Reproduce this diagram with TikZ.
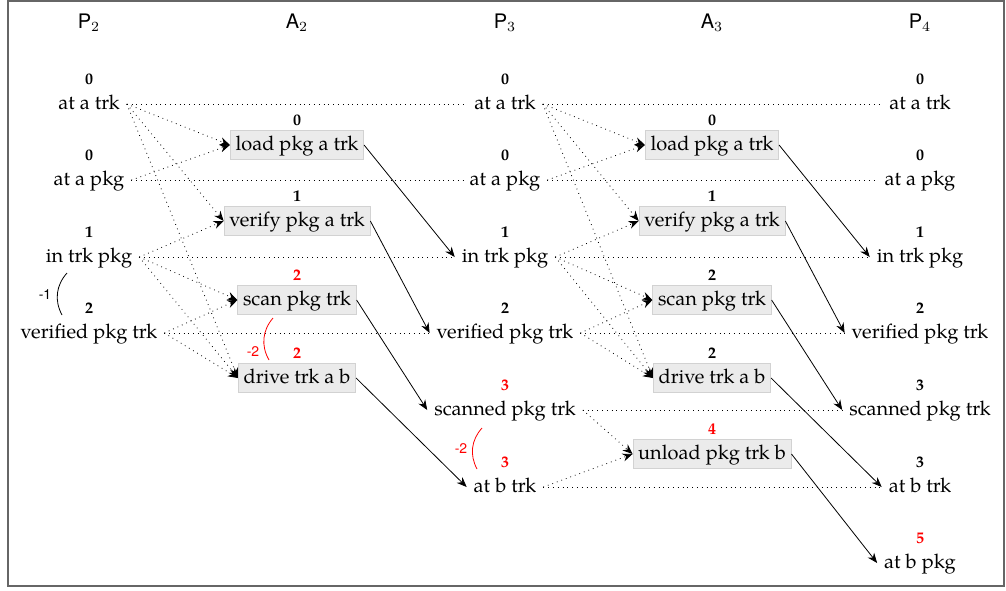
\documentclass[tikz,border=0pt]{standalone}
\usepackage{fontspec}
\setmainfont{TeX Gyre Pagella}
\setsansfont{TeX Gyre Heros}
\usetikzlibrary{arrows.meta}

\definecolor{boxfill}{HTML}{EBEBEB}
\definecolor{boxline}{HTML}{D2D2D2}
\definecolor{hotred}{HTML}{FF0000}

\tikzset{
  fact/.style={text height=1.5ex, text depth=.25ex},
  action/.style={fact, fill=boxfill, draw=boxline, inner xsep=2.6pt},
  level/.style={font=\footnotesize\bfseries, inner sep=1pt},
  hot/.style={text=hotred},
  head/.style={font=\sffamily},
  mutex/.style={draw, thin},
  weight/.style={font=\sffamily\scriptsize},
}

\begin{document}
\begin{tikzpicture}[x=0.5pt, y=-0.5pt, label distance=1pt]
\useasboundingbox (0,0) rectangle (1006,590);
\draw[black!60, line width=0.6pt] (8,1) rectangle (1004,586);

% layer headings
\node[head] (hp2) at (89,23) {P$_2$};
\node[head] (ha2) at (297,23) {A$_2$};
\node[head] (hp3) at (505,23) {P$_3$};
\node[head] (ha3) at (712,23) {A$_3$};
\node[head] (hp4) at (920,23) {P$_4$};

% proposition layer 2
\node[fact, label={[level]above:0}] (p2atrk) at (89,104) {at a trk};
\node[fact, label={[level]above:0}] (p2apkg) at (89,180) {at a pkg};
\node[fact, label={[level]above:1}] (p2in) at (89,257) {in trk pkg};
\node[fact, label={[level]above:2}] (p2ver) at (89,333) {verified pkg trk};

% action layer 2
\node[action, label={[level]above:0}] (a2load) at (297,145) {load pkg a trk};
\node[action, label={[level]above:1}] (a2verify) at (297,221) {verify pkg a trk};
\node[action, label={[level,hot]above:2}] (a2scan) at (297,300) {scan pkg trk};
\node[action, label={[level,hot]above:2}] (a2drive) at (297,378) {drive trk a b};

% proposition layer 3
\node[fact, label={[level]above:0}] (p3atrk) at (505,104) {at a trk};
\node[fact, label={[level]above:0}] (p3apkg) at (505,180) {at a pkg};
\node[fact, label={[level]above:1}] (p3in) at (505,257) {in trk pkg};
\node[fact, label={[level]above:2}] (p3ver) at (505,333) {verified pkg trk};
\node[fact, label={[level,hot]above:3}] (p3scan) at (505,410) {scanned pkg trk};
\node[fact, label={[level,hot]above:3}] (p3btrk) at (505,487) {at b trk};

% action layer 3
\node[action, label={[level]above:0}] (a3load) at (712,145) {load pkg a trk};
\node[action, label={[level]above:1}] (a3verify) at (712,221) {verify pkg a trk};
\node[action, label={[level]above:2}] (a3scan) at (712,300) {scan pkg trk};
\node[action, label={[level]above:2}] (a3drive) at (712,378) {drive trk a b};
\node[action, label={[level,hot]above:4}] (a3unload) at (712,454) {unload pkg trk b};

% proposition layer 4
\node[fact, label={[level]above:0}] (p4atrk) at (920,104) {at a trk};
\node[fact, label={[level]above:0}] (p4apkg) at (920,180) {at a pkg};
\node[fact, label={[level]above:1}] (p4in) at (920,257) {in trk pkg};
\node[fact, label={[level]above:2}] (p4ver) at (920,333) {verified pkg trk};
\node[fact, label={[level]above:3}] (p4scan) at (920,410) {scanned pkg trk};
\node[fact, label={[level]above:3}] (p4btrk) at (920,487) {at b trk};
\node[fact, label={[level,hot]above:5}] (p4bpkg) at (920,563) {at b pkg};

% no-ops
\begin{scope}[every edge/.style = {draw, dotted}]
\path (p2atrk.east) edge (p3atrk.west);
\path (p2apkg.east) edge (p3apkg.west);
\path (p2in.east) edge (p3in.west);
\path (p2ver.east) edge (p3ver.west);
\path (p3atrk.east) edge (p4atrk.west);
\path (p3apkg.east) edge (p4apkg.west);
\path (p3in.east) edge (p4in.west);
\path (p3ver.east) edge (p4ver.west);
\path (p3scan.east) edge (p4scan.west);
\path (p3btrk.east) edge (p4btrk.west);
\end{scope}

% preconditions
\begin{scope}[every edge/.style = {draw, dotted, -{Stealth[length=5pt, width=4pt]}}]
\path (p2atrk.east) edge (a2load.west);
\path (p2atrk.east) edge (a2verify.west);
\path (p2atrk.east) edge (a2drive.west);
\path (p2apkg.east) edge (a2load.west);
\path (p2in.east) edge (a2verify.west);
\path (p2in.east) edge (a2scan.west);
\path (p2in.east) edge (a2drive.west);
\path (p2ver.east) edge (a2scan.west);
\path (p2ver.east) edge (a2drive.west);
\path (p3atrk.east) edge (a3load.west);
\path (p3atrk.east) edge (a3verify.west);
\path (p3atrk.east) edge (a3drive.west);
\path (p3apkg.east) edge (a3load.west);
\path (p3in.east) edge (a3verify.west);
\path (p3in.east) edge (a3scan.west);
\path (p3in.east) edge (a3drive.west);
\path (p3ver.east) edge (a3scan.west);
\path (p3ver.east) edge (a3drive.west);
\path (p3scan.east) edge (a3unload.west);
\path (p3btrk.east) edge (a3unload.west);
\end{scope}

% effects
\begin{scope}[every edge/.style = {draw, -{Stealth[length=5pt, width=4pt]}}]
\path (a2load.east) edge (p3in.west);
\path (a2verify.east) edge (p3ver.west);
\path (a2scan.east) edge (p3scan.west);
\path (a2drive.east) edge (p3btrk.west);
\path (a3load.east) edge (p4in.west);
\path (a3verify.east) edge (p4ver.west);
\path (a3scan.east) edge (p4scan.west);
\path (a3drive.east) edge (p4btrk.west);
\path (a3unload.east) edge (p4bpkg.west);
\end{scope}

% mutex marks
\draw[mutex] (67,273) to[bend right=35] (62,315);
\node[weight] (m1) at (45,295) {-1};
\draw[mutex, hotred] (273,318) to[bend right=35] (269,360);
\node[weight, text=hotred] (m2) at (253,352) {-2};
\draw[mutex, hotred] (482,428) to[bend right=35] (477,469);
\node[weight, text=hotred] (m3) at (461,449) {-2};
\end{tikzpicture}
\end{document}
